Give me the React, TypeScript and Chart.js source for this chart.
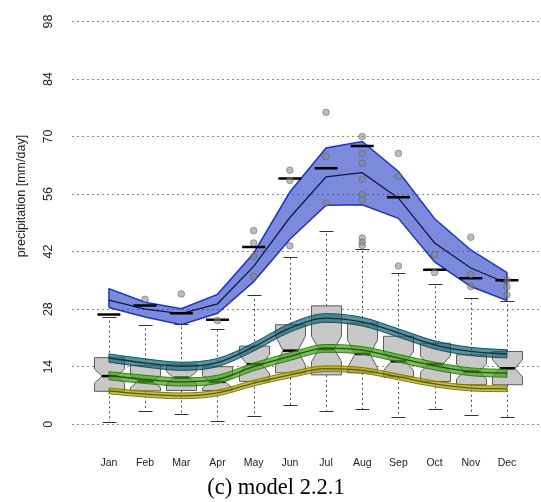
import React, { useEffect, useRef } from 'react';
import { Chart, registerables } from 'chart.js';

Chart.register(...registerables);

// ---------- data ----------
const months = ['Jan', 'Feb', 'Mar', 'Apr', 'May', 'Jun', 'Jul', 'Aug', 'Sep', 'Oct', 'Nov', 'Dec'];
const yTickStep = 14;
const yTitle = 'precipitation [mm/day]';
const chartTitle = '(c) model 2.2.1';

// observed boxplots
const boxQ1 = [8.0, 8.1, 8.2, 8.2, 10.4, 12.5, 12.0, 12.5, 11.5, 10.4, 9.6, 9.6];
const boxMedian = [11.7, 10.4, 11.3, 10.3, 14.6, 17.9, 18.3, 17.1, 15.3, 14.6, 12.8, 13.6];
const boxQ3 = [16.2, 14.3, 14.6, 14.0, 19.0, 24.2, 28.8, 24.6, 21.4, 19.7, 16.9, 17.7];
const boxNotch = [1.7, 1.5, 1.5, 1.5, 2.3, 3.6, 3.1, 3.4, 2.3, 2.0, 1.8, 2.1];
const whiskerLow = [0.6, 3.3, 2.6, 0.7, 1.9, 4.7, 3.3, 3.7, 1.8, 3.7, 2.3, 1.8];
const whiskerHigh = [26.0, 24.2, 24.5, 23.2, 31.5, 40.6, 46.9, 42.6, 36.8, 34.2, 30.7, 29.9];

// outliers (month index 1..12, value)
const outlierMonth = [2, 3, 4, 5, 5, 5, 5, 6, 6, 6, 7, 7, 7, 8, 8, 8, 8, 8, 8, 8, 8, 8, 9, 9, 9, 10, 10, 11, 11, 11, 12, 12, 12];
const outlierValue = [30.4, 31.7, 25.2, 47.1, 44.1, 40.8, 35.9, 61.8, 59.3, 43.4, 75.9, 65.1, 53.8, 70.0, 65.9, 63.5, 59.6, 55.9, 54.6, 45.3, 44.3, 43.5, 65.9, 60.3, 38.5, 41.2, 36.9, 45.5, 36.4, 33.5, 35.0, 33.4, 31.5];

// black dashes
const dashValues = [26.7, 28.9, 27.0, 25.4, 43.1, 59.8, 62.3, 67.7, 55.2, 37.6, 35.5, 35.0];

// blue band
const blueUpper = [33.0, 29.7, 28.1, 31.6, 41.6, 56.5, 67.2, 68.8, 61.5, 50.0, 42.4, 36.9];
const blueMid = [30.2, 28.0, 26.9, 29.3, 38.4, 50.3, 60.2, 61.2, 55.0, 44.1, 38.0, 34.3];
const blueLower = [28.4, 26.1, 24.2, 27.0, 34.7, 45.0, 53.3, 53.4, 50.1, 39.5, 33.5, 30.1];

// teal band
const tealUpper = [17.1, 15.9, 15.1, 16.0, 19.8, 24.5, 26.9, 26.0, 23.2, 20.3, 18.7, 18.1];
const tealMid = [16.1, 14.9, 14.1, 15.0, 18.8, 23.4, 25.8, 24.9, 22.2, 19.3, 17.7, 17.1];
const tealLower = [15.1, 13.9, 13.1, 14.0, 17.8, 22.4, 24.8, 23.9, 21.2, 18.3, 16.7, 16.1];

// green band
const greenUpper = [12.8, 11.9, 11.3, 11.9, 14.9, 17.4, 19.4, 18.9, 17.0, 15.1, 13.7, 13.3];
const greenMid = [11.8, 10.9, 10.3, 10.9, 14.0, 16.5, 18.5, 18.0, 16.1, 14.2, 12.8, 12.4];
const greenLower = [10.8, 9.9, 9.3, 9.9, 13.0, 15.5, 17.5, 17.0, 15.1, 13.2, 11.8, 11.4];

// yellow band
const yellowUpper = [8.8, 8.0, 7.6, 8.3, 10.7, 12.7, 14.2, 13.8, 12.2, 10.5, 9.5, 9.3];
const yellowMid = [8.1, 7.3, 6.9, 7.6, 10.0, 12.0, 13.5, 13.1, 11.5, 9.8, 8.8, 8.6];
const yellowLower = [7.4, 6.6, 6.2, 6.9, 9.3, 11.3, 12.8, 12.4, 10.8, 9.1, 8.1, 7.9];

// ---------- helpers ----------
const pts = (arr: number[]) => arr.map((v, i) => ({ x: i + 1, y: v }));

function bandDatasets(
  upper: number[], mid: number[], lower: number[],
  fillColor: string, edgeColor: string, midColor: string,
  order: number, smooth: boolean, edgeWidth: number
) {
  const common: any = {
    pointRadius: 0,
    pointHoverRadius: 0,
    tension: smooth ? 0.4 : 0,
    cubicInterpolationMode: smooth ? 'monotone' : 'default',
  };
  const last = upper.length - 1;
  return [
    { ...common, data: pts(upper), borderWidth: 0, borderColor: 'rgba(0,0,0,0)', backgroundColor: fillColor, fill: '+1', order: order + 1 },
    { ...common, data: pts(lower), borderWidth: edgeWidth, borderColor: edgeColor, fill: false, order },
    { ...common, data: pts(upper), borderWidth: edgeWidth, borderColor: edgeColor, fill: false, order },
    { ...common, data: pts(mid), borderWidth: 1.3, borderColor: midColor, fill: false, order },
    { ...common, tension: 0, data: [{ x: 1, y: lower[0] }, { x: 1, y: upper[0] }], borderWidth: edgeWidth, borderColor: edgeColor, fill: false, order },
    { ...common, tension: 0, data: [{ x: last + 1, y: lower[last] }, { x: last + 1, y: upper[last] }], borderWidth: edgeWidth, borderColor: edgeColor, fill: false, order },
  ];
}

const boxPlugin = {
  id: 'notchedBoxes',
  beforeDatasetsDraw(chart: any) {
    const { ctx } = chart;
    const xs = chart.scales.x;
    const ys = chart.scales.y;
    const hw = 15;
    const nw = 7.5;
    const cap = 7;
    ctx.save();
    for (let i = 0; i < months.length; i++) {
      const cx = Math.round(xs.getPixelForValue(i + 1)) + 0.5;
      const yQ1 = ys.getPixelForValue(boxQ1[i]);
      const yQ3 = ys.getPixelForValue(boxQ3[i]);
      const yMed = ys.getPixelForValue(boxMedian[i]);
      const yNhi = ys.getPixelForValue(boxMedian[i] + boxNotch[i]);
      const yNlo = ys.getPixelForValue(boxMedian[i] - boxNotch[i]);
      const yLo = ys.getPixelForValue(whiskerLow[i]);
      const yHi = ys.getPixelForValue(whiskerHigh[i]);

      // whiskers
      ctx.strokeStyle = '#4a4a4a';
      ctx.lineWidth = 1;
      ctx.setLineDash([2, 3]);
      ctx.beginPath();
      ctx.moveTo(cx, yQ3);
      ctx.lineTo(cx, yHi);
      ctx.moveTo(cx, yQ1);
      ctx.lineTo(cx, yLo);
      ctx.stroke();
      ctx.setLineDash([]);

      // caps
      ctx.strokeStyle = '#333';
      ctx.beginPath();
      ctx.moveTo(cx - cap, Math.round(yHi) + 0.5);
      ctx.lineTo(cx + cap, Math.round(yHi) + 0.5);
      ctx.moveTo(cx - cap, Math.round(yLo) + 0.5);
      ctx.lineTo(cx + cap, Math.round(yLo) + 0.5);
      ctx.stroke();

      // notched box
      ctx.beginPath();
      ctx.moveTo(cx - hw, yQ1);
      ctx.lineTo(cx - hw, yNlo);
      ctx.lineTo(cx - nw, yMed);
      ctx.lineTo(cx - hw, yNhi);
      ctx.lineTo(cx - hw, yQ3);
      ctx.lineTo(cx + hw, yQ3);
      ctx.lineTo(cx + hw, yNhi);
      ctx.lineTo(cx + nw, yMed);
      ctx.lineTo(cx + hw, yNlo);
      ctx.lineTo(cx + hw, yQ1);
      ctx.closePath();
      ctx.fillStyle = '#c8c8c8';
      ctx.fill();
      ctx.strokeStyle = '#5c5c5c';
      ctx.lineWidth = 1;
      ctx.stroke();

      // median
      ctx.strokeStyle = '#000';
      ctx.lineWidth = 2.5;
      ctx.beginPath();
      ctx.moveTo(cx - nw, yMed);
      ctx.lineTo(cx + nw, yMed);
      ctx.stroke();
    }
    ctx.restore();
  },
};

const labelPlugin = {
  id: 'rotatedLabels',
  afterDraw(chart: any) {
    const { ctx } = chart;
    const ys = chart.scales.y;
    ctx.save();
    ctx.fillStyle = '#222';
    ctx.font = '12.5px "Liberation Sans", Arial, sans-serif';
    ctx.textAlign = 'center';
    ctx.textBaseline = 'middle';
    for (const t of ys.ticks) {
      const py = ys.getPixelForValue(t.value);
      ctx.save();
      ctx.translate(48.5, py);
      ctx.rotate(-Math.PI / 2);
      ctx.fillText(String(t.value), 0, 0);
      ctx.restore();
    }
    ctx.save();
    ctx.translate(22, 196);
    ctx.rotate(-Math.PI / 2);
    ctx.fillText(yTitle, 0, 0);
    ctx.restore();
    ctx.restore();
  },
};

export default function App() {
  const canvasRef = useRef<HTMLCanvasElement | null>(null);

  useEffect(() => {
    if (!canvasRef.current) return;
    const datasets: any[] = [
      {
        data: outlierMonth.map((m, i) => ({ x: m, y: outlierValue[i] })),
        showLine: false,
        pointRadius: 3.3,
        pointBackgroundColor: 'rgba(135,135,135,0.55)',
        pointBorderColor: 'rgba(95,95,95,0.55)',
        pointBorderWidth: 1,
        order: 0,
      },
      {
        data: pts(dashValues),
        showLine: false,
        pointStyle: 'line',
        pointRadius: 11.5,
        pointBorderWidth: 2.5,
        pointBorderColor: '#000',
        order: 1,
      },
      ...bandDatasets(blueUpper, blueMid, blueLower, 'rgba(35,60,195,0.6)', '#1f35c0', '#15154a', 2, false, 1.5),
      ...bandDatasets(yellowUpper, yellowMid, yellowLower, 'rgba(170,165,0,0.7)', 'rgba(125,120,0,0.95)', 'rgba(90,85,0,0.95)', 4, true, 1),
      ...bandDatasets(greenUpper, greenMid, greenLower, 'rgba(70,160,20,0.7)', 'rgba(45,125,15,0.95)', 'rgba(25,80,10,0.95)', 6, true, 1),
      ...bandDatasets(tealUpper, tealMid, tealLower, 'rgba(20,100,115,0.7)', 'rgba(15,75,90,0.95)', 'rgba(10,45,55,0.95)', 8, true, 1),
    ];

    const zeroPad = (scale: any) => {
      scale.paddingLeft = 0;
      scale.paddingRight = 0;
      scale.paddingTop = 0;
      scale.paddingBottom = 0;
    };

    const chart = new Chart(canvasRef.current, {
      type: 'line',
      data: { datasets },
      options: {
        animation: false,
        responsive: false,
        devicePixelRatio: 1,
        layout: { autoPadding: false, padding: { left: 11, right: 0, top: 12, bottom: 0 } },
        plugins: {
          legend: { display: false },
          tooltip: { enabled: false },
          title: {
            display: true,
            text: chartTitle,
            position: 'bottom',
            color: '#000',
            font: { family: '"Liberation Serif", "Times New Roman", serif', size: 22.5, weight: 'normal' },
            padding: { top: 5.3, bottom: 0.7 },
          },
        },
        scales: {
          x: {
            type: 'linear',
            min: -0.02,
            max: 12.94,
            grid: { display: false, drawTicks: false },
            border: { display: false },
            afterFit: (scale: any) => {
              zeroPad(scale);
              scale.height = 32.6;
            },
            ticks: {
              stepSize: 1,
              includeBounds: false,
              autoSkip: false,
              maxRotation: 0,
              minRotation: 0,
              padding: 20,
              color: '#222',
              font: { family: '"Liberation Sans", Arial, sans-serif', size: 10.5 },
              callback: (v: any) => {
                const n = Number(v);
                return Number.isInteger(n) && n >= 1 && n <= months.length ? months[n - 1] : '';
              },
            },
          },
          y: {
            type: 'linear',
            min: -2.97,
            max: 100.31,
            grid: { color: '#8a8a8a', lineWidth: 1, drawTicks: false },
            border: { display: false, dash: [2, 3] },
            afterFit: (scale: any) => {
              zeroPad(scale);
              scale.width = 61;
            },
            ticks: { stepSize: yTickStep, includeBounds: false, display: false },
          },
        },
      } as any,
      plugins: [boxPlugin, labelPlugin],
    });
    return () => chart.destroy();
  }, []);

  return (
    <div style={{ position: 'absolute', left: 0, top: 0, width: 541, height: 502, background: '#fff' }}>
      <canvas ref={canvasRef} width={541} height={502} style={{ display: 'block' }} />
    </div>
  );
}
